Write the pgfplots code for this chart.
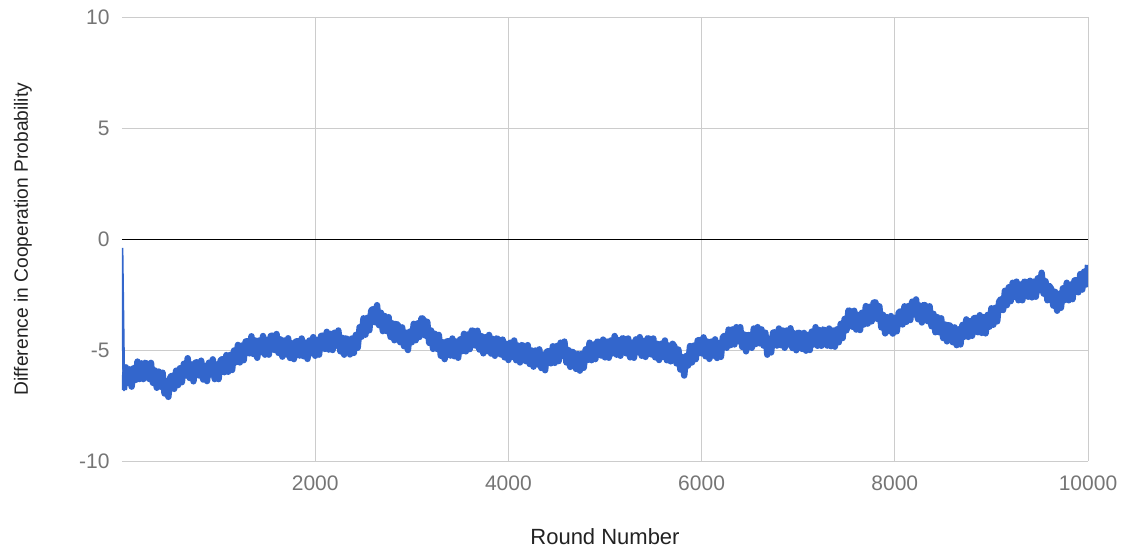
\documentclass[border=0pt]{standalone}
\usepackage{fontspec}
\setmainfont{Liberation Sans}
\usepackage{pgfplots}
\usepackage{pgfplotstable}
\pgfplotsset{compat=1.18}
\definecolor{gblue}{HTML}{3366CC}
\definecolor{gridgray}{HTML}{CCCCCC}
\definecolor{ticklab}{HTML}{757575}
\definecolor{titlecol}{HTML}{222222}
\pgfplotstableread{
x y
20 -6.80
40 -5.78
60 -6.48
80 -5.87
100 -6.65
120 -5.82
140 -6.35
160 -5.52
180 -6.31
200 -5.60
220 -6.31
240 -5.57
260 -5.65
280 -6.30
300 -5.58
320 -6.48
340 -5.92
360 -6.70
380 -5.97
400 -6.65
420 -6.02
440 -6.96
460 -6.40
480 -7.11
500 -6.22
520 -6.15
540 -6.75
560 -5.93
580 -6.58
600 -5.82
620 -6.45
640 -5.62
660 -6.15
680 -5.37
700 -6.26
720 -5.65
740 -6.41
760 -5.57
780 -5.55
800 -6.15
820 -5.48
840 -6.33
860 -5.72
880 -6.40
900 -5.57
920 -6.10
940 -5.42
960 -6.31
980 -5.65
1000 -6.31
1020 -5.47
1040 -5.40
1060 -6.00
1080 -5.23
1100 -5.98
1120 -5.22
1140 -5.90
1160 -5.02
1180 -5.55
1200 -4.77
1220 -5.56
1240 -4.80
1260 -5.46
1280 -4.62
1300 -4.60
1320 -5.15
1340 -4.38
1360 -5.18
1380 -4.57
1400 -5.35
1420 -4.57
1440 -5.10
1460 -4.37
1480 -5.21
1500 -4.55
1520 -5.21
1540 -4.37
1560 -4.35
1580 -5.00
1600 -4.28
1620 -5.13
1640 -4.52
1660 -5.30
1680 -4.57
1700 -5.20
1720 -4.47
1740 -5.36
1760 -4.70
1780 -5.41
1800 -4.62
1820 -4.60
1840 -5.25
1860 -4.48
1880 -5.28
1900 -4.67
1920 -5.40
1940 -4.57
1960 -5.15
1980 -4.42
2000 -5.26
2020 -4.55
2040 -5.21
2060 -4.37
2080 -4.35
2100 -4.95
2120 -4.18
2140 -4.98
2160 -4.27
2180 -5.00
2200 -4.22
2220 -4.80
2240 -4.12
2260 -5.06
2280 -4.45
2300 -5.21
2320 -4.47
2340 -4.55
2360 -5.20
2380 -4.48
2400 -5.13
2420 -4.32
2440 -4.90
2460 -3.97
2480 -4.40
2500 -3.57
2520 -4.31
2540 -3.55
2560 -4.11
2580 -3.22
2600 -3.15
2620 -3.75
2640 -2.98
2660 -3.88
2680 -3.32
2700 -4.15
2720 -3.47
2740 -4.15
2760 -3.52
2780 -4.41
2800 -3.80
2820 -4.56
2840 -3.82
2860 -3.90
2880 -4.65
2900 -3.98
2920 -4.83
2940 -4.22
2960 -5.00
2980 -4.17
3000 -4.65
3020 -3.82
3040 -4.56
3060 -3.80
3080 -4.41
3100 -3.57
3120 -3.60
3140 -4.35
3160 -3.73
3180 -4.68
3200 -4.12
3220 -4.95
3240 -4.27
3260 -4.95
3280 -4.32
3300 -5.26
3320 -4.65
3340 -5.41
3360 -4.62
3380 -4.60
3400 -5.25
3420 -4.48
3440 -5.28
3460 -4.62
3480 -5.35
3500 -4.52
3520 -5.05
3540 -4.27
3560 -5.06
3580 -4.30
3600 -4.96
3620 -4.12
3640 -4.15
3660 -4.80
3680 -4.13
3700 -4.98
3720 -4.37
3740 -5.15
3760 -4.42
3780 -5.05
3800 -4.32
3820 -5.16
3840 -4.50
3860 -5.26
3880 -4.47
3900 -4.55
3920 -5.20
3940 -4.53
3960 -5.33
3980 -4.72
4000 -5.45
4020 -4.67
4040 -5.30
4060 -4.57
4080 -5.46
4100 -4.80
4120 -5.56
4140 -4.77
4160 -4.85
4180 -5.50
4200 -4.78
4220 -5.63
4240 -5.02
4260 -5.75
4280 -5.02
4300 -5.65
4320 -4.97
4340 -5.81
4360 -5.20
4380 -5.91
4400 -5.07
4420 -5.05
4440 -5.60
4460 -4.83
4480 -5.58
4500 -4.82
4520 -5.50
4540 -4.67
4560 -5.25
4580 -4.62
4600 -5.56
4620 -5.00
4640 -5.76
4660 -5.07
4680 -5.15
4700 -5.85
4720 -5.18
4740 -5.93
4760 -5.17
4780 -5.80
4800 -4.97
4820 -5.45
4840 -4.67
4860 -5.46
4880 -4.75
4900 -5.41
4920 -4.62
4940 -4.65
4960 -5.25
4980 -4.53
5000 -5.33
5020 -4.62
5040 -5.35
5060 -4.57
5080 -5.15
5100 -4.37
5120 -5.21
5140 -4.55
5160 -5.26
5180 -4.47
5200 -4.50
5220 -5.15
5240 -4.48
5260 -5.33
5280 -4.67
5300 -5.35
5320 -4.52
5340 -5.10
5360 -4.42
5380 -5.26
5400 -4.60
5420 -5.31
5440 -4.47
5460 -4.50
5480 -5.20
5500 -4.48
5520 -5.33
5540 -4.72
5560 -5.45
5580 -4.72
5600 -5.30
5620 -4.57
5640 -5.46
5660 -4.80
5680 -5.51
5700 -4.72
5720 -4.85
5740 -5.60
5760 -4.98
5780 -5.88
5800 -5.32
5820 -6.15
5840 -5.27
5860 -5.70
5880 -4.82
5900 -5.56
5920 -4.80
5940 -5.41
5960 -4.57
5980 -4.55
6000 -5.15
6020 -4.43
6040 -5.28
6060 -4.62
6080 -5.40
6100 -4.62
6120 -5.25
6140 -4.52
6160 -5.36
6180 -4.70
6200 -5.31
6220 -4.42
6240 -4.35
6260 -4.90
6280 -4.08
6300 -4.78
6320 -4.07
6340 -4.75
6360 -3.97
6380 -4.60
6400 -3.97
6420 -4.86
6440 -4.30
6460 -5.06
6480 -4.32
6500 -4.35
6520 -4.90
6540 -4.03
6560 -4.73
6580 -3.97
6600 -4.70
6620 -4.07
6640 -4.80
6660 -4.22
6680 -5.21
6700 -4.50
6720 -5.11
6740 -4.22
6760 -4.20
6780 -4.80
6800 -4.03
6820 -4.78
6840 -4.12
6860 -4.90
6880 -4.12
6900 -4.75
6920 -4.02
6940 -4.91
6960 -4.25
6980 -5.01
7000 -4.22
7020 -4.25
7040 -4.95
7060 -4.23
7080 -5.03
7100 -4.32
7120 -5.00
7140 -4.17
7160 -4.75
7180 -3.97
7200 -4.81
7220 -4.10
7240 -4.81
7260 -4.07
7280 -4.15
7300 -4.80
7320 -4.03
7340 -4.83
7360 -4.12
7380 -4.85
7400 -4.07
7420 -4.65
7440 -3.82
7460 -4.46
7480 -3.60
7500 -4.11
7520 -3.22
7540 -3.25
7560 -3.95
7580 -3.23
7600 -4.08
7620 -3.42
7640 -4.10
7660 -3.32
7680 -3.85
7700 -3.02
7720 -3.81
7740 -3.05
7760 -3.71
7780 -2.87
7800 -2.85
7820 -3.60
7840 -3.03
7860 -3.98
7880 -3.42
7900 -4.25
7920 -3.52
7940 -4.15
7960 -3.47
7980 -4.26
8000 -3.55
8020 -4.16
8040 -3.32
8060 -3.25
8080 -3.85
8100 -3.03
8120 -3.73
8140 -3.02
8160 -3.65
8180 -2.82
8200 -3.40
8220 -2.72
8240 -3.61
8260 -3.00
8280 -3.76
8300 -2.97
8320 -3.00
8340 -3.70
8360 -3.03
8380 -3.93
8400 -3.37
8420 -4.20
8440 -3.52
8460 -4.20
8480 -3.57
8500 -4.46
8520 -3.85
8540 -4.61
8560 -3.87
8580 -3.95
8600 -4.65
8620 -3.98
8640 -4.78
8660 -4.07
8680 -4.75
8700 -3.87
8720 -4.40
8740 -3.62
8760 -4.41
8780 -3.70
8800 -4.36
8820 -3.57
8840 -3.55
8860 -4.20
8880 -3.43
8900 -4.23
8920 -3.52
8940 -4.25
8960 -3.42
8980 -3.95
9000 -3.12
9020 -3.86
9040 -3.10
9060 -3.71
9080 -2.82
9100 -2.70
9120 -3.20
9140 -2.33
9160 -2.98
9180 -2.17
9200 -2.80
9220 -1.97
9240 -2.60
9260 -1.92
9280 -2.76
9300 -2.05
9320 -2.76
9340 -1.92
9360 -1.95
9380 -2.60
9400 -1.88
9420 -2.63
9440 -1.92
9460 -2.60
9480 -1.77
9500 -2.30
9520 -1.52
9540 -2.46
9560 -1.90
9580 -2.76
9600 -2.12
9620 -2.25
9640 -3.00
9660 -2.38
9680 -3.23
9700 -2.47
9720 -3.10
9740 -2.22
9760 -2.75
9780 -1.97
9800 -2.76
9820 -2.05
9840 -2.71
9860 -1.87
9880 -1.85
9900 -2.40
9920 -1.58
9940 -2.28
9960 -1.47
9980 -2.05
10000 -1.17
}\datatable
\begin{document}
\begin{tikzpicture}
\path[use as bounding box] (-61pt,-43.5pt) rectangle (505.5pt,230.5pt);
\begin{axis}[
  scale only axis, width=483pt, height=222pt,
  xmin=0, xmax=10000, ymin=-10, ymax=10,
  xtick={2000,4000,6000,8000,10000},
  ytick={-10,-5,5,10},
  scaled x ticks=false, scaled y ticks=false,
  extra y ticks={0},
  extra y tick style={grid style={black, line width=0.5pt}},
  grid=major,
  grid style={gridgray, line width=0.5pt},
  axis line style={draw=none},
  major tick length=0pt,
  tick label style={font=\fontsize{10.5}{12}\selectfont, text=ticklab},
  /pgf/number format/1000 sep={},
  /pgf/number format/assume math mode=true,
  xticklabel style={anchor=north, yshift=-3.7pt},
  yticklabel style={anchor=east, xshift=-2.7pt},
  xlabel={Round Number},
  ylabel={Difference in Cooperation Probability},
  every axis x label/.style={at={(axis description cs:0.5,-0.171)}, anchor=center, font=\fontsize{11}{13}\selectfont, text=titlecol},
  every axis y label/.style={at={(axis description cs:-0.1025,0.5)}, rotate=90, anchor=center, font=\fontsize{9.6}{12}\selectfont, text=titlecol},
]
\addplot[gblue, line width=1.4pt, line join=round] coordinates {(0,-0.4) (20,-6.8) (40,-5.78)};
\addplot[gblue, line width=3.2pt, line join=round] table[x=x, y=y] {\datatable};
\end{axis}
\end{tikzpicture}
\end{document}
